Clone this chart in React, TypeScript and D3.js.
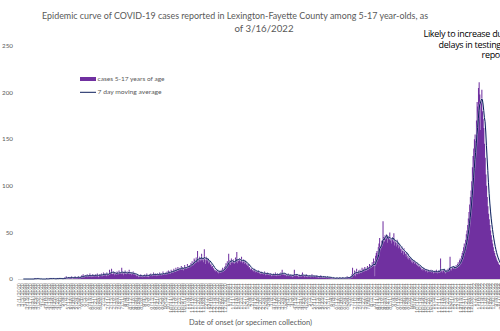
import React from "react";
import * as d3 from "d3";

const START_DATE = "2020-03-01";
const END_DATE = "2022-03-16";

// daily cases, 3/1/2020 - 9/30/2020
const casesPart1 = [
  0,0,0,0,0,0,0, 0,0,0,0,0,0,0, 0,0,0,0,0,0,0, 0,
  1,0,1,0,0,1,0,0, 0,0,0,0,0,0,0, 0,0,0,1,0,0,0, 1,0,1,1,0,0,1,0,0, 0,1,0,1,1,0,1, 0,1,0,0,1,0,
  1,2,1,3,1,0,2, 2,1,2,1,3,0,1, 2,1,3,2,1,1,2, 3,2,1,2,
  3,4,2,5,3,2,4, 4,3,5,2,4,3,6, 3,4,2,5,4,3,4, 5,3,4,6,3,2,5,
  5,4,6,3,5,7,4, 6,5,3,7,5,4,6, 10,
  7,6,11,5,6,8,4, 7,6,5,8,7,5,9, 6,7,5,12,6,8,4, 7,9,6,5,8,6,7, 10,5,6,7,4,6,8, 5,6,
  5,4,3,5,4,2,3, 4,5,3,4,2,4,3, 5,3,4,6,3,2,4, 5,
  5,6,4,5,3,7,5, 4,6,5,3,6,5,4, 7,5,6,4,5,8,6, 5,
];
// 10/1/2020 - 4/19/2021
const casesPart2 = [
  6,7,5,8,6,9,7, 8,6,10,8,7,9,11, 9,8,12,10,9,13,11, 10,
  12,11,14,10,13,9,12, 15,12,13,11,16,14,12, 15,
  14,17,16,19,15,18,22, 20,17,23,19,30,21,18, 24,
  22,19,27,20,23,18,32, 21,16,24,19,22,17,20, 18,15,
  16,13,14,11,12,9,10, 8,9,7,10,6,8,9, 7,10,8,12,9,11,13,
  14,17,13,19,16,27,18, 20,15,22,17,19,21,16, 18,23,20,29,17,21,19, 22,18,20,24,17,19,21, 16,20,18,15,
  17,14,16,12,13,10,11, 12,9,10,8,11,7,9, 8,
  8,7,9,6,7,5,8, 6,7,5,6,8,4,6, 5,7,6,5,
  4,5,6,3,5,4,6, 5,4,7,3,5,6,4, 5,6,4,7,5,10,6, 5,4,6,
  4,5,3,4,6,3,4, 5,3,4,2,5,4,10, 3,4,5,3,4,2,5, 3,
];
// 4/20/2021 - 12/4/2021
const casesPart3 = [
  4,3,5,7,3,4,2, 4,3,5,2,4,3,3, 4,2,3,5,3,2,4, 3,
  2,3,4,2,3,1,3, 2,4,3,2,1,3,2, 2,3,1,2,3,1,2, 2,
  1,2,1,0,1,2,1, 0,1,1,2,0,1,1, 2,1,0,1,2,1,1, 0,2,1,1,3,1,2, 1,2,
  3,2,5,12,4,6,9, 3,8,11,5,7,9,6, 10,8,7,12,9,11,8, 13,10,12,9,14,11,13, 16,12,15,14,
  18,14,22,19,3,25,28, 30,26,34,38,44,32,36, 41,38,62,45,40,47,43, 48,44,39,46,42,50,41,
  43,38,45,40,49,36,41, 39,35,42,37,33,38,34, 32,28,35,30,26,33,29, 27,24,29,22,25,21,23,
  20,22,18,21,17,19,20, 16,18,15,17,14,16,13, 14,
  12,13,10,11,9,12,10, 11,8,10,9,7,10,8, 9,8,10,7,9,8,6,
  8,9,7,10,8,6,9, 8,7,22,8,9,7,10, 9,8,6,10,9,8,11,
  10,12,24,11,9,13,12, 11,14,12,
];
// 12/5/2021 - 3/16/2022
const casesPart4 = [
  13,15,12,16,18,14,20,22,19,25,28,
  30,34,38,33,42,48,52,58,65,72,80,
  88,95,105,120,132,140,150,
  155,148,170,190,185,205,211,
  198,160,190,203,180,172,162,
  145,130,112,
  100,88,78,70,64,58,52,47,42,38,34,
  30,28,25,23,21,19,18,16,15,
  14,13,12,12,11,10,11, 9,10,9,8,9,8,7, 8,7,6,7,6,7,5, 6,5,6,5,4,5,6, 4,5,4,5,3,4,5, 4,
];

const cases = [...casesPart1, ...casesPart2, ...casesPart3, ...casesPart4];
const yTicks = [0, 50, 100, 150, 200, 250];
const titleLines = [
  "Epidemic curve of COVID-19 cases reported in Lexington-Fayette County among 5-17 year-olds, as",
  "of 3/16/2022",
];
const annotationLines = ["Likely to increase due to", "delays in testing and", "reporting"];
const legendItems = ["cases 5-17 years of age", "7 day moving average"];
const xAxisTitle = "Date of onset (or specimen collection)";

const W = 500;
const H = 331;
const BAR = "#7030A0";
const LINE = "#0D1F5C";
const GRAY = "#595959";
const FONT = "Lato, 'Open Sans', sans-serif";

export default function App() {
  const start = d3.utcParse("%Y-%m-%d")(START_DATE)!;
  const end = d3.utcParse("%Y-%m-%d")(END_DATE)!;
  const dates = d3.utcDay.range(start, d3.utcDay.offset(end, 1));
  const fmt = d3.utcFormat("%-m/%-d/%Y");
  const labels = dates.map(fmt);
  const n = Math.min(labels.length, cases.length);
  const cats = labels.slice(0, n);

  const x = d3.scaleBand<string>().domain(cats).range([19, 524]).padding(0);
  const y = d3.scaleLinear().domain([0, 250]).range([279, 46]);
  const bw = x.bandwidth();

  // all bars in one path (union fill), overlapping slightly so neighbours join without seams
  const barPath = d3.path();
  cats.forEach((c, i) => {
    if (cases[i] > 0) barPath.rect(x(c)!, y(cases[i]), bw + 0.35, y(0) - y(cases[i]));
  });

  const ma: [number, number][] = [];
  for (let i = 6; i < n; i++) {
    const m = d3.mean(cases.slice(i - 6, i + 1))!;
    ma.push([x(cats[i])! + bw / 2, y(m)]);
  }
  const linePath = d3.line().curve(d3.curveLinear)(ma) || "";

  return (
    <svg width={W} height={H} style={{ position: "absolute", left: 0, top: 0, background: "#fff" }} fontFamily={FONT}>
      <rect x={0} y={0} width={W} height={H} fill="#fff" />
      {titleLines.map((t, i) => (
        <text key={t} x={i === 0 ? 235 : 264} y={i === 0 ? 19 : 32} textAnchor="middle" fontSize={9.8} fill={GRAY}
          textLength={i === 0 ? 386 : 59} lengthAdjust="spacingAndGlyphs">{t}</text>
      ))}
      {yTicks.map((t) => (
        <text key={t} x={13} y={y(t) + 2.2} textAnchor="end" fontSize={6.3} fill={GRAY}>{t}</text>
      ))}
      <path d={barPath.toString()} fill={BAR} fillRule="nonzero" />
      <line x1={18} x2={W} y1={279.5} y2={279.5} stroke="#d9d9d9" strokeWidth={1} />
      <path d={linePath} fill="none" stroke="#dfe8f5" strokeWidth={2.0} strokeOpacity={0.5} strokeLinejoin="round" />
      <path d={linePath} fill="none" stroke={LINE} strokeWidth={1.0} strokeLinejoin="round" />
      {/* x tick labels */}
      <g fill="#7f7f7f" fontSize={5.4}>
        {cats.map((c, i) => i % 4 === 0 ? (
          <text key={c} transform={`translate(${x(c)! + bw / 2 + 1.8},283) rotate(-90)`} textAnchor="end">{c}</text>
        ) : null)}
      </g>
      <text x={250.5} y={325} textAnchor="middle" fontSize={7} fill={GRAY} textLength={123} lengthAdjust="spacingAndGlyphs">{xAxisTitle}</text>
      {/* legend */}
      <rect x={80} y={77} width={16} height={4} fill={BAR} />
      <text x={97.5} y={81.2} fontSize={6.2} fill={GRAY} textLength={67} lengthAdjust="spacingAndGlyphs">{legendItems[0]}</text>
      <line x1={80} x2={96} y1={92.3} y2={92.3} stroke={LINE} strokeWidth={1} />
      <text x={97.5} y={94.4} fontSize={6.2} fill={GRAY} textLength={64} lengthAdjust="spacingAndGlyphs">{legendItems[1]}</text>
      {/* annotation */}
      {annotationLines.map((t, i) => (
        <text key={t} x={[423.5, 438.5, 481.5][i]} y={[36.5, 47.5, 58.3][i]} fontSize={9} fill="#000" fontFamily="'Open Sans', Lato, sans-serif" letterSpacing={-0.3}>{t}</text>
      ))}
    </svg>
  );
}
